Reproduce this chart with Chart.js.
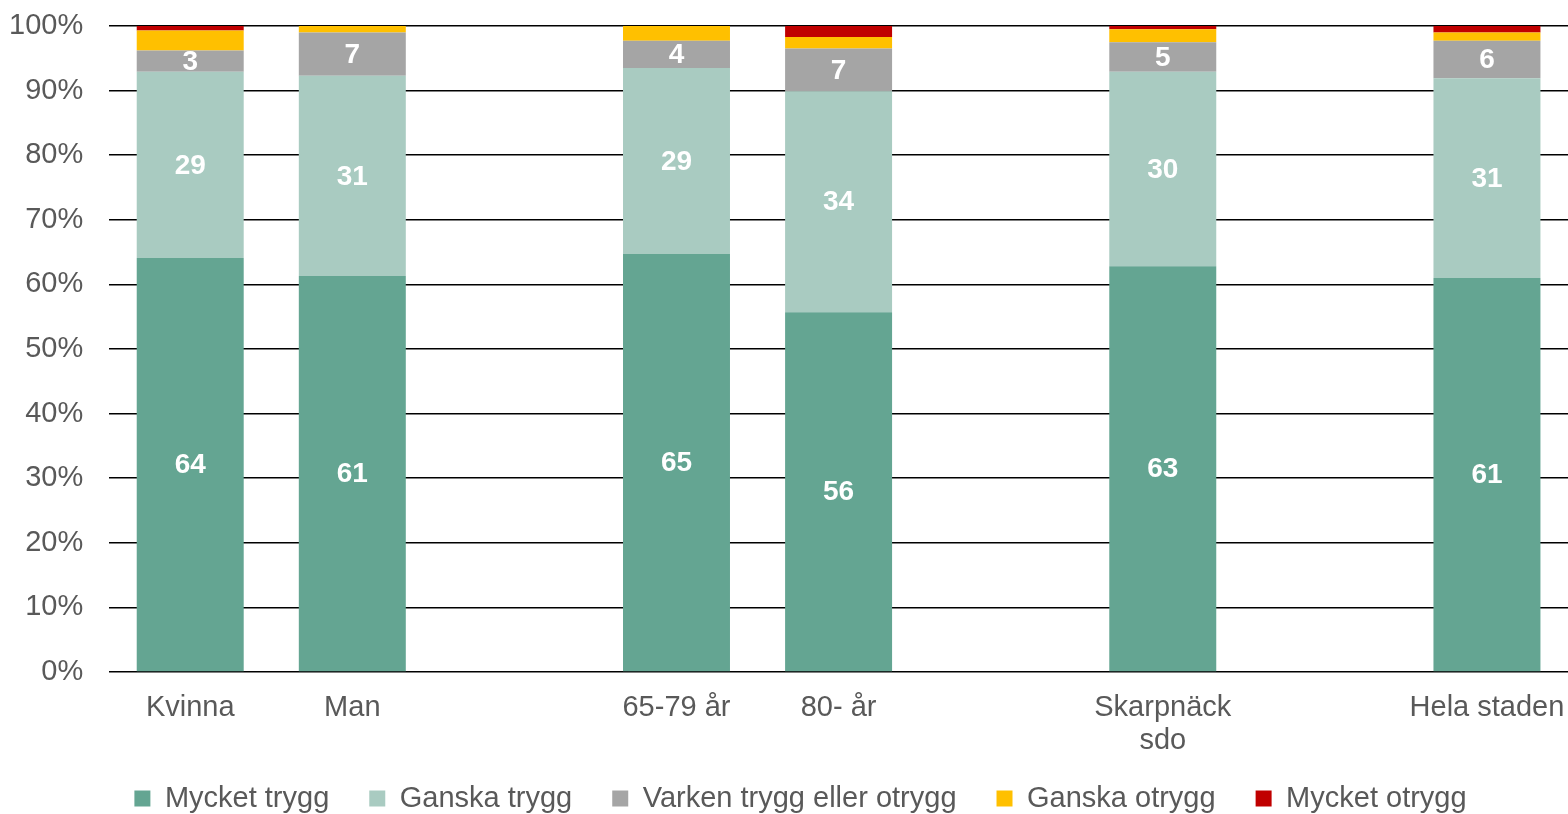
<!DOCTYPE html>
<html>
<head>
<meta charset="utf-8">
<script src="https://cdn.jsdelivr.net/npm/chart.js@4"></script>
<style>
  html, body { margin: 0; padding: 0; background: #fff; }
  #wrap { width: 1568px; height: 814px; }
</style>
</head>
<body>
<div id="wrap"><canvas id="chart" width="1568" height="814"></canvas></div>
<script>
// categories (empty strings are the gaps between groups)
const labels = ['Kvinna', 'Man', '', '65-79 år', '80- år', '', ['Skarpnäck', 'sdo'], '', 'Hela staden'];

const mycketTrygg   = [64.1, 61.3, null, 64.7, 55.7, null, 62.8, null, 61.0];
const ganskaTrygg   = [28.8, 31.0, null, 28.8, 34.2, null, 30.1, null, 30.9];
const varken        = [3.3, 6.7, null, 4.2, 6.6, null, 4.6, null, 5.8];
const ganskaOtrygg  = [3.1, 1.0, null, 2.3, 1.8, null, 2.0, null, 1.3];
const mycketOtrygg  = [0.7, 0.0, null, 0.0, 1.7, null, 0.5, null, 1.0];

const seriesNames = ['Mycket trygg', 'Ganska trygg', 'Varken trygg eller otrygg', 'Ganska otrygg', 'Mycket otrygg'];
const colors = ['#64a592', '#a9cbc1', '#a5a5a5', '#ffc000', '#c00000'];
const seriesData = [mycketTrygg, ganskaTrygg, varken, ganskaOtrygg, mycketOtrygg];

const FONT = "'Liberation Sans', Arial, sans-serif";

// white value labels inside the first three segments
const segmentLabels = {
  id: 'segmentLabels',
  afterDatasetsDraw(chart) {
    const ctx = chart.ctx;
    ctx.save();
    ctx.font = 'bold 28px ' + FONT;
    ctx.fillStyle = '#ffffff';
    ctx.textAlign = 'center';
    ctx.textBaseline = 'middle';
    for (let d = 0; d < 3; d++) {
      const meta = chart.getDatasetMeta(d);
      meta.data.forEach((bar, i) => {
        const v = chart.data.datasets[d].data[i];
        if (v == null) return;
        const mid = (bar.y + bar.base) / 2;
        ctx.fillText(Math.round(v), bar.x, mid + 1);
      });
    }
    ctx.restore();
  }
};

// legend in the original sits a little right of centre and higher up
const legendShift = {
  id: 'legendShift',
  afterLayout(chart) {
    chart.legend.left += 25;
    chart.legend.right += 25;
    chart.legend.top -= 12;
  }
};

new Chart(document.getElementById('chart'), {
  type: 'bar',
  data: {
    labels: labels,
    datasets: seriesData.map((arr, i) => ({
      label: seriesNames[i],
      data: arr,
      backgroundColor: colors[i],
      borderWidth: 0,
      categoryPercentage: 1,
      barPercentage: 0.66
    }))
  },
  options: {
    responsive: false,
    animation: false,
    layout: { padding: { top: 26, right: 0, left: -17, bottom: 0 } },
    scales: {
      x: {
        stacked: true,
        grid: { display: false },
        border: { display: false },
        afterFit: scale => { scale.height = 84; scale.paddingRight = 0; scale.paddingLeft = 0; },
        ticks: {
          color: '#595959',
          font: { family: FONT, size: 29, lineHeight: 1.15 },
          maxRotation: 0,
          autoSkip: false,
          padding: 11
        }
      },
      y: {
        stacked: true,
        min: 0,
        max: 100,
        grid: { color: '#000000', lineWidth: 1.6, drawTicks: false },
        border: { display: false },
        afterFit: scale => { scale.paddingTop = 0; },
        ticks: {
          stepSize: 10,
          color: '#595959',
          font: { family: FONT, size: 29 },
          padding: 26,
          callback: v => v + '%'
        }
      }
    },
    plugins: {
      legend: {
        position: 'bottom',
        maxHeight: 58,
        labels: {
          color: '#595959',
          font: { family: FONT, size: 29 },
          boxWidth: 16,
          boxHeight: 16,
          padding: 40
        }
      },
      tooltip: { enabled: false }
    }
  },
  plugins: [segmentLabels, legendShift]
});
</script>
</body>
</html>
